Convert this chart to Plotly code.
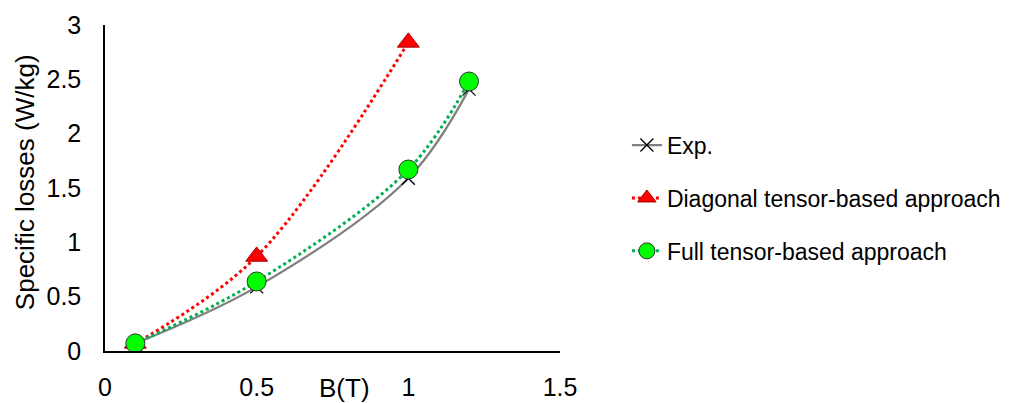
import plotly.graph_objects as go

b_exp = [0.1, 0.5, 1.0, 1.2]
loss_exp = [0.07, 0.59, 1.59, 2.41]
b_diag = [0.1, 0.5, 1.0]
loss_diag = [0.07, 0.87, 2.84]
b_full = [0.1, 0.5, 1.0, 1.2]
loss_full = [0.07, 0.64, 1.67, 2.48]

x_ticks = [0, 0.5, 1, 1.5]
y_ticks = [0, 0.5, 1, 1.5, 2, 2.5, 3]

FONT = "Liberation Sans, Arial, sans-serif"

fig = go.Figure()
fig.add_trace(go.Scatter(
    x=b_exp, y=loss_exp, name="Exp.", mode="lines+markers",
    line=dict(color="#808080", width=2.25, shape="spline"),
    marker=dict(symbol="x-thin-open", size=13, color="black", line=dict(color="black", width=1.3)),
    legendgroup="a"))
fig.add_trace(go.Scatter(
    x=b_diag, y=loss_diag, name="Diagonal tensor-based approach", mode="lines+markers",
    line=dict(color="#FF0000", width=3, dash="dot", shape="spline"),
    marker=dict(symbol="triangle-up", size=19, color="#FF0000", line=dict(color="#9E0000", width=1)),
    legendgroup="b"))
fig.add_trace(go.Scatter(
    x=b_full, y=loss_full, name="Full tensor-based approach", mode="lines+markers",
    line=dict(color="#00B050", width=3, dash="dot", shape="spline"),
    marker=dict(symbol="circle", size=19, color="#00FF00", line=dict(color="#333333", width=1)),
    legendgroup="c"))

fig.update_layout(
    width=1011, height=395,
    margin=dict(l=97, r=459, t=17, b=52, autoexpand=False),
    paper_bgcolor="white", plot_bgcolor="white",
    font=dict(family=FONT, size=25, color="black"),
    showlegend=True,
    legend=dict(x=1.147, y=0.469, xanchor="left", yanchor="middle",
                font=dict(family=FONT, size=23, color="black"),
                tracegroupgap=20, bgcolor="rgba(0,0,0,0)"),
    xaxis=dict(range=[0, 1.5], tickvals=x_ticks, ticktext=[str(v) for v in x_ticks],
               showgrid=False, zeroline=False, showline=True, linecolor="black", linewidth=1.5,
               ticks="", ticklabelstandoff=13, tickfont=dict(size=25), automargin=False),
    yaxis=dict(range=[0, 3], tickvals=y_ticks, ticktext=[str(v) for v in y_ticks],
               showgrid=False, zeroline=False, showline=True, linecolor="black", linewidth=1.5,
               ticks="", ticklabelstandoff=17, tickfont=dict(size=25), automargin=False),
    annotations=[
        dict(text="B(T)", xref="paper", yref="paper", x=0.527, y=-0.113,
             xanchor="center", yanchor="middle", showarrow=False, font=dict(size=26)),
        dict(text="Specific losses (W/kg)", xref="paper", yref="paper", x=-0.1758,
             y=0.518, xanchor="center", yanchor="middle", textangle=-90,
             showarrow=False, font=dict(size=26)),
    ],
)

fig.write_html("out.html")
